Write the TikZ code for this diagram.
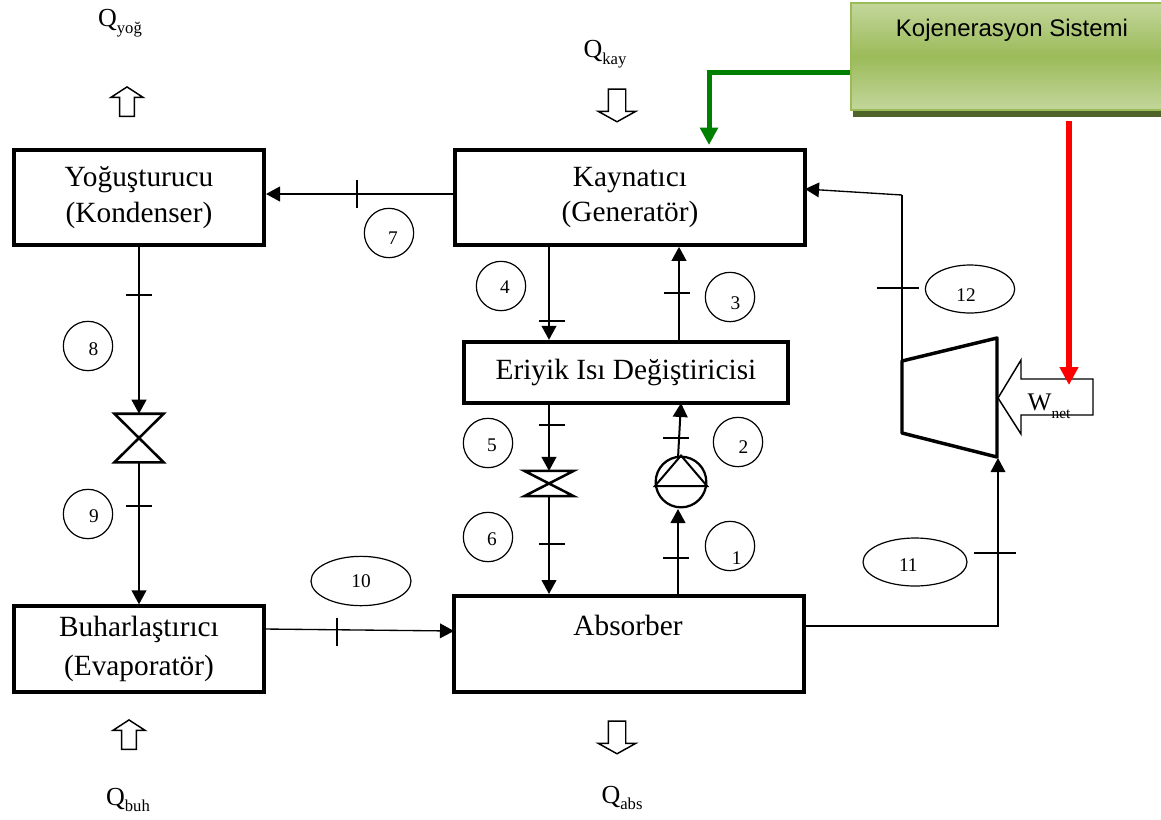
\documentclass[tikz,border=0pt]{standalone}
\usepackage{fontspec}
\setmainfont{Liberation Serif}
\newfontfamily\kojfont{Liberation Sans}
\usepackage[HTML]{xcolor}
\usetikzlibrary{positioning, arrows, arrows.meta, shapes.arrows, shapes.geometric}

\definecolor{kojlight}{HTML}{C3D69B}
\definecolor{kojmid}{HTML}{9BBB59}
\definecolor{kojshadow}{HTML}{4F6228}

\begin{document}
\begin{tikzpicture}[x=0.75pt, y=-0.75pt,
    box/.style={draw, line width=3pt, align=center, font=\fontsize{22}{26.5}\selectfont, inner sep=0pt},
    flow/.style={line width=1.5pt, -{Triangle[length=10.5pt, width=11pt]}},
    thinflow/.style={line width=1pt, -{Triangle[length=10.5pt, width=11pt]}},
    mark tick/.style={line width=1pt},
    num/.style={draw, circle, line width=0.9pt, minimum size=37pt, inner sep=0pt},
    numoval/.style={draw, ellipse, line width=0.9pt, inner sep=0pt},
    numtext/.style={font=\fontsize{14.5}{16}\selectfont, inner sep=0pt},
    heatup/.style={draw, line width=1.1pt, single arrow, shape border rotate=90, minimum height=22pt,
        inner sep=5pt, single arrow head extend=6.5pt, single arrow tip angle=114},
    heatdown/.style={draw, line width=1.1pt, single arrow, shape border rotate=270, minimum height=24.5pt,
        inner sep=6pt, single arrow head extend=7.5pt, single arrow tip angle=122},
    qlabel/.style={font=\fontsize{19.5}{22}\selectfont, inner sep=0pt},
    valve/.style={inner sep=0pt, minimum width=36.5pt}
]
\useasboundingbox (0,0) rectangle (1161,819);

% --- Cogeneration Box ---
\fill[kojshadow] (853,10) rectangle (1170,117);
\node[draw=kojmid, line width=1.2pt, top color=kojlight, bottom color=kojlight, middle color=kojmid,
      minimum width=239pt, minimum height=80pt, inner sep=0pt] (koj) at (1010.5,56.5) {};
\node[font=\kojfont\fontsize{18}{20}\selectfont, inner sep=0pt] (kojtext) at (1012,30) {Kojenerasyon Sistemi};

% --- Main Components ---
\node[box, minimum width=187.5pt, minimum height=71pt] (yog) at (139,197.5) {Yoğuşturucu\\(Kondenser)};
\node[box, minimum width=262.5pt, minimum height=71pt] (kay) at (630,197.5) {Kaynatıcı\\(Generatör)};
\node[box, minimum width=243pt, minimum height=46pt] (eri) at (626,372.5) {Eriyik Isı Değiştiricisi};
\node[box, minimum width=262.5pt, minimum height=72pt] (abs) at (629,644) {};
\node[font=\fontsize{22}{26}\selectfont, inner sep=0pt] (abstext) at (628,625) {Absorber};
\node[box, minimum width=187.5pt, minimum height=64pt, font=\fontsize{22}{29}\selectfont] (buh) at (139,649) {Buharlaştırıcı\\(Evaporatör)};

% --- Valves and Pump ---
\node[valve, minimum height=36pt] (valvesol) at (139,438) {};
\node[valve, minimum height=18.5pt] (valvesag) at (549,483.5) {};
\node[draw, circle, line width=1.7pt, minimum size=38pt, inner sep=0pt] (pump) at (681,482) {};

\draw[line width=1.9pt] (valvesol.north west) -- (valvesol.south east) -- (valvesol.south west) -- (valvesol.north east) -- cycle;
\draw[line width=1.9pt] (valvesag.north west) -- (valvesag.south east) -- (valvesag.south west) -- (valvesag.north east) -- cycle;
\draw[line width=1.5pt] (pump.189) -- (pump.north) -- (pump.-9) -- cycle;

% --- Turbine ---
\coordinate (T1) at (902,361);
\coordinate (T2) at (997,338);
\coordinate (T3) at (997,457);
\coordinate (T4) at (902,433);
\draw[line width=2.6pt, line join=round] (T1) -- (T2) -- (T3) -- (T4) -- cycle;

% --- Work Input ---
\draw[line width=1.1pt, fill=white] (998,398) -- (1021,360) -- (1021,379) -- (1093,379) -- (1093,415) -- (1021,415) -- (1021,434) -- cycle;
\node[font=\fontsize{19}{20}\selectfont, inner sep=0pt] (wnet) at (1049,406) {W\raisebox{-6pt}{\fontsize{11.5}{12}\selectfont net}};

% --- Connection Points ---
\coordinate (line7) at (357,194);
\coordinate (green1) at (709,72);
\coordinate (green2) at (709,145);
\coordinate (red1) at (1069,121);
\coordinate (red2) at (1069,385);
\coordinate (kayin) at (805,189);
\coordinate (turbup) at (902,195);
\coordinate (buhout) at (264,629);
\coordinate (absin) at (454,631);
\coordinate (absout) at (804,626);
\coordinate (turbin) at (998,626);
\coordinate (turbtip) at (998,458);
\coordinate (pumpout) at (678,458);
\coordinate (pumptop) at (681,403);
\coordinate (pumpin) at (678,509);
\coordinate (riser) at (679,300);

% --- Flow Lines ---
\draw[flow] (kay.west |- line7) -- (yog.east |- line7);
\draw[flow] (yog.south) -- (valvesol.north);
\draw[flow] (valvesol.south) -- (buh.north);
\draw[thinflow] (buhout) -- (absin);
\draw[flow] (kay.south -| valvesag) -- (eri.north -| valvesag);
\draw[flow] (eri.south -| valvesag) -- (valvesag.north);
\draw[flow] (valvesag.south) -- (abs.north -| valvesag);
\draw[flow] (abs.north -| pumpin) -- (pumpin);
\draw[flow] (pumpout) -- (pumptop);
\draw[flow] (eri.north -| riser) -- (kay.south -| riser);
\draw[thinflow] (absout) -- (turbin) -- (turbtip);
\draw[line width=1pt] (T1) -- (turbup);
\draw[thinflow] (turbup) -- (kayin);

% --- Cogeneration Lines ---
\draw[line width=3.75pt, color=green!50!black, -{Triangle[length=13pt, width=13pt]}] (koj.west |- green1) -- (green1) -- (green2);
\draw[line width=4pt, red, -{Triangle[length=13.5pt, width=13.5pt]}] (red1) -- (red2);

% --- Tick Marks ---
\foreach \x/\y in {139/295, 139/506, 552/321, 677/293, 552/425, 552/544, 676/438, 676/558}
    \draw[mark tick] (\x-13,\y) -- (\x+13,\y);
\foreach \x/\y in {995/553, 898/288}
    \draw[mark tick] (\x-21,\y) -- (\x+21,\y);
\foreach \x/\y in {357/194, 337/632}
    \draw[mark tick] (\x,\y-14) -- (\x,\y+14);

% --- State Numbers ---
\node[num, label={[numtext, xshift=5pt, yshift=-9pt]center:1}] (n1) at (730,546) {};
\node[num, label={[numtext, xshift=4pt, yshift=-4pt]center:2}] (n2) at (738,442) {};
\node[num, label={[numtext, xshift=4pt, yshift=-4.5pt]center:3}] (n3) at (730,297) {};
\node[num, label={[numtext, xshift=3pt, yshift=-1pt]center:4}] (n4) at (501,286) {};
\node[num, label={[numtext, xshift=3pt, yshift=-2pt]center:5}] (n5) at (488,443) {};
\node[num, label={[numtext, xshift=3pt, yshift=-2pt]center:6}] (n6) at (488,537) {};
\node[num, label={[numtext, xshift=3pt, yshift=-4pt]center:7}] (n7) at (389,233) {};
\node[num, label={[numtext, xshift=4pt, yshift=-2pt]center:8}] (n8) at (88,346) {};
\node[num, label={[numtext, xshift=4.5pt, yshift=-1.5pt]center:9}] (n9) at (88,514) {};
\node[numoval, minimum width=75pt, minimum height=37pt, label={[numtext]center:10}] (n10) at (361,581) {};
\node[numoval, minimum width=78pt, minimum height=36pt, label={[numtext, xshift=-5pt, yshift=-2pt]center:11}] (n11) at (915,562) {};
\node[numoval, minimum width=67pt, minimum height=36pt, label={[numtext, xshift=-3pt, yshift=-4.5pt]center:12}] (n12) at (970,289) {};

% --- Heat Labels and Arrows ---
\node[heatup] (hyog) at (127,104) {};
\node[heatdown] (hkay) at (617,103) {};
\node[heatdown] (habs) at (617,735) {};
\node[heatup] (hbuh) at (129,737) {};

\node[qlabel] (qyog) at (120,23) {Q\raisebox{-5pt}{\fontsize{12.5}{13}\selectfont yoğ}};
\node[qlabel] (qkay) at (605,54) {Q\raisebox{-5pt}{\fontsize{12.5}{13}\selectfont kay}};
\node[qlabel] (qbuh) at (128,800) {Q\raisebox{-5pt}{\fontsize{12.5}{13}\selectfont buh}};
\node[qlabel] (qabs) at (622,798) {Q\raisebox{-5pt}{\fontsize{12.5}{13}\selectfont abs}};

\end{tikzpicture}
\end{document}
